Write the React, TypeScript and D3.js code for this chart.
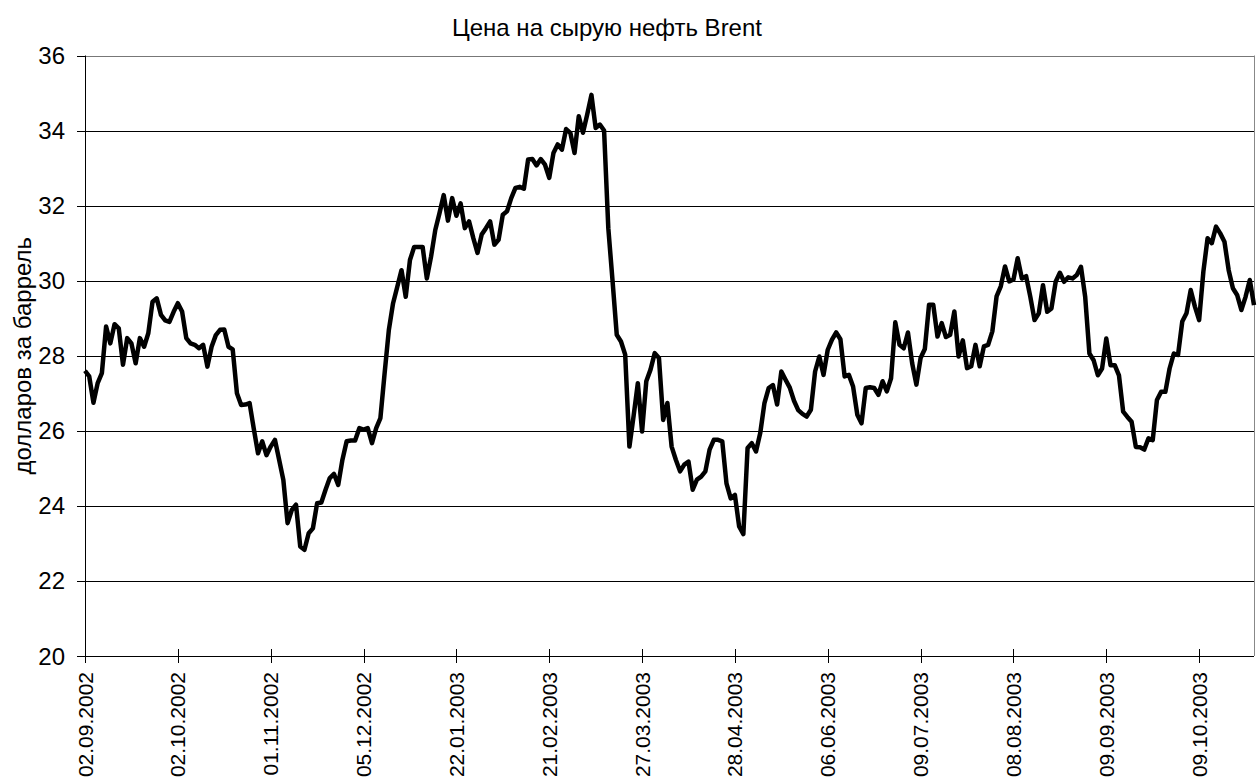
import React from "react";
import * as d3 from "d3";

const title = "Цена на сырую нефть Brent";
const yAxisTitle = "долларов за баррель";

const tickLabels = [
  "02.09.2002", "02.10.2002", "01.11.2002", "05.12.2002", "22.01.2003",
  "21.02.2003", "27.03.2003", "28.04.2003", "06.06.2003", "09.07.2003",
  "08.08.2003", "09.09.2003", "09.10.2003",
];
const labelInterval = 22;

const yTicks = [20, 22, 24, 26, 28, 30, 32, 34, 36];

const prices = [
  27.6, 27.45, 26.75, 27.27, 27.54, 28.78, 28.33, 28.84, 28.73, 27.76,
  28.47, 28.33, 27.8, 28.47, 28.24, 28.6, 29.44, 29.53, 29.09, 28.94,
  28.9, 29.17, 29.4, 29.18, 28.47, 28.33, 28.29, 28.2, 28.29, 27.71,
  28.24, 28.55, 28.69, 28.7, 28.24, 28.17, 27.0, 26.69, 26.7, 26.74,
  26.05, 25.4, 25.72, 25.35, 25.58, 25.76, 25.23, 24.69, 23.54, 23.89,
  24.03, 22.92, 22.83, 23.27, 23.4, 24.07, 24.09, 24.43, 24.74, 24.85,
  24.56, 25.23, 25.72, 25.74, 25.74, 26.07, 26.03, 26.07, 25.67, 26.07,
  26.34, 27.54, 28.69, 29.4, 29.84, 30.28, 29.57, 30.55, 30.9, 30.9,
  30.9, 30.06, 30.64, 31.35, 31.8, 32.28, 31.6, 32.2, 31.73, 32.06,
  31.4, 31.58, 31.14, 30.74, 31.23, 31.4, 31.58, 30.96, 31.09, 31.76,
  31.85, 32.2, 32.47, 32.5, 32.45, 33.23, 33.24, 33.07, 33.24, 33.09,
  32.74, 33.4, 33.63, 33.49, 34.04, 33.94, 33.4, 34.38, 33.94, 34.43,
  34.95, 34.07, 34.16, 34.0, 31.4, 30.0, 28.56, 28.38, 28.03, 25.58,
  26.4, 27.27, 25.98, 27.32, 27.63, 28.07, 27.94, 26.29, 26.74, 25.58,
  25.23, 24.92, 25.1, 25.18, 24.43, 24.7, 24.78, 24.92, 25.5, 25.76,
  25.76, 25.72, 24.6, 24.2, 24.29, 23.45, 23.25, 25.54, 25.67, 25.45,
  25.94, 26.74, 27.14, 27.22, 26.7, 27.58, 27.36, 27.15, 26.8, 26.55,
  26.45, 26.38, 26.56, 27.58, 27.98, 27.49, 28.16, 28.43, 28.62, 28.44,
  27.45, 27.49, 27.18, 26.43, 26.2, 27.14, 27.16, 27.14, 26.96, 27.32,
  27.05, 27.4, 28.89, 28.29, 28.2, 28.62, 27.8, 27.23, 27.94, 28.18,
  29.36, 29.36, 28.51, 28.87, 28.5, 28.56, 29.18, 27.98, 28.41, 27.67,
  27.72, 28.29, 27.72, 28.25, 28.29, 28.65, 29.58, 29.85, 30.38, 29.98,
  30.03, 30.6, 30.06, 30.12, 29.57, 28.95, 29.13, 29.88, 29.17, 29.26,
  29.97, 30.21, 29.97, 30.09, 30.06, 30.15, 30.37, 29.57, 28.06, 27.88,
  27.48, 27.66, 28.46, 27.75, 27.75, 27.48, 26.51, 26.37, 26.24, 25.57,
  25.56, 25.5, 25.8, 25.75, 26.82, 27.04, 27.04, 27.66, 28.06, 28.02,
  28.91, 29.13, 29.75, 29.31, 28.95, 30.24, 31.13, 31.0, 31.44, 31.26,
  31.04, 30.28, 29.8, 29.62, 29.22, 29.57, 30.02, 29.35,
];

const W = 1257;
const H = 782;
const left = 85;
const right = 1254;
const top = 55.5;
const bottom = 656;
const font = "Arial, 'Liberation Sans', sans-serif";

export default function App() {
  const x = d3.scaleLinear().domain([0, prices.length - 1]).range([left, right]);
  const y = d3.scaleLinear().domain([20, 36]).range([bottom, top]);
  const line = d3
    .line<number>()
    .x((_, i) => x(i))
    .y((d) => y(d));

  const tickIdx = tickLabels.map((_, k) => k * labelInterval);

  return (
    <svg
      width={W}
      height={H}
      style={{ position: "absolute", left: 0, top: 0, background: "#fff" }}
      fontFamily={font}
    >
      <rect x={0} y={0} width={W} height={H} fill="#fff" />
      {yTicks.map((t) => (
        <line
          key={"g" + t}
          x1={left}
          x2={right}
          y1={Math.round(y(t)) + 0.5}
          y2={Math.round(y(t)) + 0.5}
          stroke={t === 36 ? "#777" : "#000"}
          strokeWidth={1}
        />
      ))}
      <line x1={right + 0.5} x2={right + 0.5} y1={top} y2={bottom} stroke="#888" strokeWidth={1} />
      <line x1={left + 0.5} x2={left + 0.5} y1={top} y2={bottom} stroke="#000" strokeWidth={1} />
      {yTicks.map((t) => (
        <g key={"yt" + t}>
          <line
            x1={left - 8}
            x2={left}
            y1={Math.round(y(t)) + 0.5}
            y2={Math.round(y(t)) + 0.5}
            stroke="#000"
          />
          <text
            x={65}
            y={y(t)}
            textAnchor="end"
            dominantBaseline="central"
            fontSize={24}
            fill="#000"
          >
            {t}
          </text>
        </g>
      ))}
      <line x1={left} x2={right} y1={bottom + 0.5} y2={bottom + 0.5} stroke="#000" />
      {tickIdx.map((ti, k) => (
        <g key={"xt" + k}>
          <line
            x1={Math.round(x(ti)) + 0.5}
            x2={Math.round(x(ti)) + 0.5}
            y1={bottom - 7}
            y2={bottom + 7}
            stroke="#000"
          />
          <text
            transform={`translate(${x(ti)},${bottom + 16}) rotate(-90)`}
            textAnchor="end"
            dominantBaseline="central"
            fontSize={21}
            fill="#000"
          >
            {tickLabels[k]}
          </text>
        </g>
      ))}
      <path
        d={line(prices) || ""}
        fill="none"
        stroke="#000"
        strokeWidth={4.5}
        strokeLinejoin="round"
        strokeLinecap="butt"
      />
      <text x={607} y={36} textAnchor="middle" fontSize={24} fill="#000">
        {title}
      </text>
      <text
        transform={`translate(22,${(top + bottom) / 2}) rotate(-90)`}
        textAnchor="middle"
        dominantBaseline="central"
        fontSize={24}
        fill="#000"
      >
        {yAxisTitle}
      </text>
    </svg>
  );
}
